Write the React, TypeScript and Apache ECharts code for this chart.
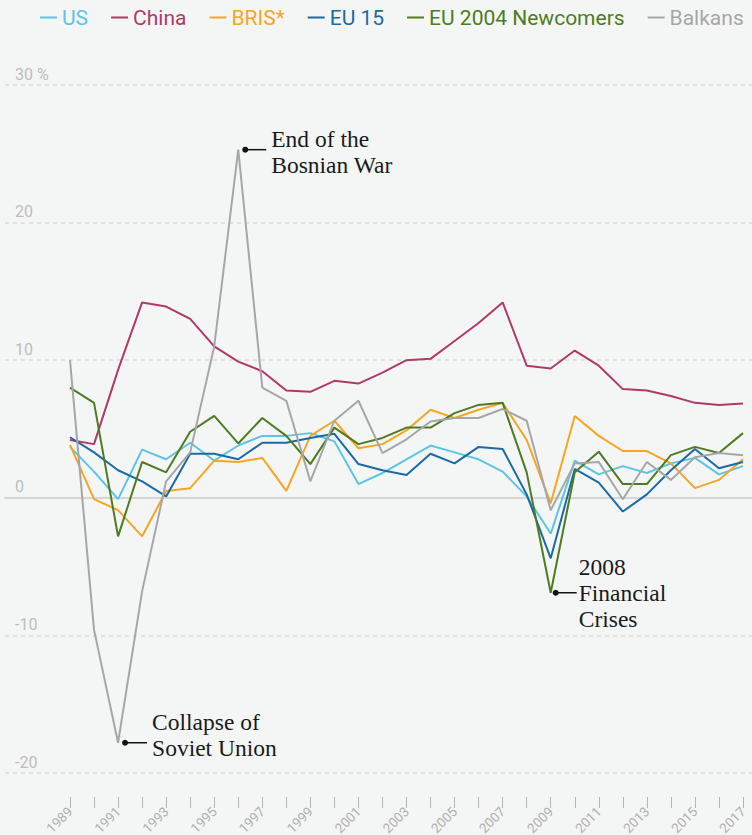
import React, { useEffect, useRef } from "react";
import * as echarts from "echarts";

const years = [
  1989, 1990, 1991, 1992, 1993, 1994, 1995, 1996, 1997, 1998, 1999, 2000, 2001, 2002, 2003,
  2004, 2005, 2006, 2007, 2008, 2009, 2010, 2011, 2012, 2013, 2014, 2015, 2016, 2017,
];

const usGrowth = [
  3.7, 1.9, -0.1, 3.5, 2.8, 4.0, 2.7, 3.8, 4.5, 4.5, 4.7, 4.1, 1.0, 1.8, 2.8,
  3.8, 3.3, 2.8, 1.9, 0.1, -2.6, 2.7, 1.7, 2.3, 1.8, 2.5, 2.9, 1.7, 2.3,
];
const chinaGrowth = [
  4.2, 3.9, 9.3, 14.2, 13.9, 13.0, 11.0, 9.9, 9.2, 7.8, 7.7, 8.5, 8.3, 9.1, 10.0,
  10.1, 11.4, 12.7, 14.2, 9.6, 9.4, 10.7, 9.6, 7.9, 7.8, 7.4, 6.9, 6.75, 6.85,
];
const brisGrowth = [
  3.85, -0.1, -0.9, -2.8, 0.5, 0.7, 2.7, 2.6, 2.9, 0.5, 4.5, 5.6, 3.6, 3.9, 4.9,
  6.4, 5.8, 6.4, 6.9, 4.2, -0.4, 5.95, 4.5, 3.4, 3.4, 2.5, 0.7, 1.3, 2.8,
];
const eu15Growth = [
  4.4, 3.3, 2.0, 1.2, 0.1, 3.2, 3.2, 2.8, 4.0, 4.0, 4.35, 4.65, 2.45, 2.0, 1.65,
  3.2, 2.5, 3.7, 3.55, 0.25, -4.4, 2.1, 1.1, -1.0, 0.25, 2.0, 3.55, 2.15, 2.6,
];
const eu2004Growth = [
  8.0, 6.9, -2.8, 2.6, 1.85, 4.8, 5.95, 3.95, 5.8, 4.5, 2.45, 5.1, 3.9, 4.35, 5.1,
  5.1, 6.15, 6.75, 6.9, 1.85, -6.9, 1.85, 3.35, 1.0, 1.0, 3.1, 3.7, 3.25, 4.7,
];
const balkansGrowth = [
  10.0, -9.6, -17.8, -6.8, 1.2, 3.3, 11.0, 25.3, 8.0, 7.05, 1.2, 5.6, 7.05, 3.25, 4.25,
  5.55, 5.8, 5.8, 6.45, 5.6, -0.9, 2.5, 2.6, -0.1, 2.6, 1.3, 2.95, 3.25, 3.1,
];

const seriesNames = ["US", "China", "BRIS*", "EU 15", "EU 2004 Newcomers", "Balkans"];
const seriesValues = [usGrowth, chinaGrowth, brisGrowth, eu15Growth, eu2004Growth, balkansGrowth];
const seriesColors = ["#5cc5e6", "#b0386b", "#f8a521", "#1c6aa3", "#4e7b1f", "#a6a6a8"];

// annotations: [year, series index, text]
const annotationYears = [1996, 1991, 2009];
const annotationSeries = [5, 5, 4];
const annotationTexts = ["End of the\nBosnian War", "Collapse of\nSoviet Union", "2008\nFinancial\nCrises"];

export default function App() {
  const ref = useRef<HTMLDivElement>(null);

  useEffect(() => {
    if (!ref.current) return;
    const chart = echarts.init(ref.current, null, { renderer: "svg" });

    const option: any = {
      animation: false,
      backgroundColor: "#f4f6f6",
      textStyle: { fontFamily: "Roboto" },
      legend: {
        left: 35,
        top: 2,
        width: 740,
        icon: "rect",
        itemWidth: 17,
        itemHeight: 2,
        itemGap: 23,
        selectedMode: false,
        textStyle: { fontSize: 21, fontFamily: "Roboto" },
        data: seriesNames.map((n, i) => ({ name: n, textStyle: { color: seriesColors[i] } })),
      },
      grid: [
        { left: 5, right: 0, top: 85, height: 688, outerBoundsMode: "none", containLabel: false },
        { left: 70, right: 9, top: 85, height: 688, outerBoundsMode: "none", containLabel: false },
      ],
      xAxis: [
        {
          gridIndex: 0,
          type: "value",
          min: 0,
          max: 1,
          axisLine: { show: true, onZero: true, lineStyle: { color: "#d6d6d6", width: 2 } },
          axisTick: { show: false },
          axisLabel: { show: false },
          splitLine: { show: false },
        },
        {
          gridIndex: 1,
          type: "value",
          min: 1989,
          max: 2017,
          interval: 1,
          offset: 24,
          position: "bottom",
          axisLine: { show: true, onZero: false, lineStyle: { color: "#f4f6f6", opacity: 0 } },
          axisTick: { show: true, length: 11, lineStyle: { color: "#b5b5b5", width: 1 } },
          axisLabel: {
            rotate: 45,
            margin: 12,
            fontSize: 13.5,
            color: "#b0b0b0",
            formatter: (v: number) => (v % 2 === 1 ? String(v) : ""),
          },
          splitLine: { show: false },
        },
      ],
      yAxis: [
        {
          gridIndex: 0,
          type: "value",
          min: -20,
          max: 30,
          interval: 10,
          axisLine: { show: false },
          axisTick: { show: false },
          splitLine: { lineStyle: { color: "#d9d9d9", type: [4, 4], width: 1.5 } },
          axisLabel: {
            inside: true,
            margin: 10,
            fontSize: 16,
            color: "#bdbdbd",
            verticalAlign: "bottom",
            padding: [0, 0, 3, 0],
            formatter: (v: number) => (v === 30 ? "30 %" : String(v)),
          },
        },
        {
          gridIndex: 1,
          type: "value",
          min: -20,
          max: 30,
          interval: 10,
          show: false,
          splitLine: { show: false },
        },
      ],
      series: seriesNames.map((name, i) => ({
        name,
        type: "line",
        xAxisIndex: 1,
        yAxisIndex: 1,
        symbol: "none",
        showSymbol: false,
        data: years.map((y, k) => [y, seriesValues[i][k]]),
        itemStyle: { color: seriesColors[i] },
        lineStyle: { color: seriesColors[i], width: 2 },
      })),
    };

    chart.setOption(option);

    const dotOffsets = [7, 7, 5];
    const lineEnds = [28, 29, 26];
    const textOffsets = [33, 34, 28];
    const textDy = [2, -8, 0];
    const graphics: any[] = [];
    annotationYears.forEach((yr, a) => {
      const idx = years.indexOf(yr);
      const val = seriesValues[annotationSeries[a]][idx];
      const p = chart.convertToPixel({ xAxisIndex: 1, yAxisIndex: 1 }, [yr, val]) as number[];
      const px = p[0];
      const py = p[1];
      graphics.push({
        type: "line",
        shape: { x1: px + dotOffsets[a], y1: py, x2: px + lineEnds[a], y2: py },
        style: { stroke: "#111", lineWidth: 1.5 },
      });
      graphics.push({
        type: "circle",
        shape: { cx: px + dotOffsets[a], cy: py, r: 3 },
        style: { fill: "#111" },
      });
      graphics.push({
        type: "text",
        x: px + textOffsets[a],
        y: py + textDy[a],
        style: {
          text: annotationTexts[a],
          font: '23.5px "Liberation Serif", serif',
          fill: "#1a1a1a",
          verticalAlign: "middle",
          align: "left",
          lineHeight: 26,
        },
      });
    });
    chart.setOption({ graphic: graphics });

    return () => {
      chart.dispose();
    };
  }, []);

  return (
    <div
      ref={ref}
      style={{ position: "fixed", left: 0, top: 0, width: 752, height: 835, background: "#f4f6f6" }}
    />
  );
}
